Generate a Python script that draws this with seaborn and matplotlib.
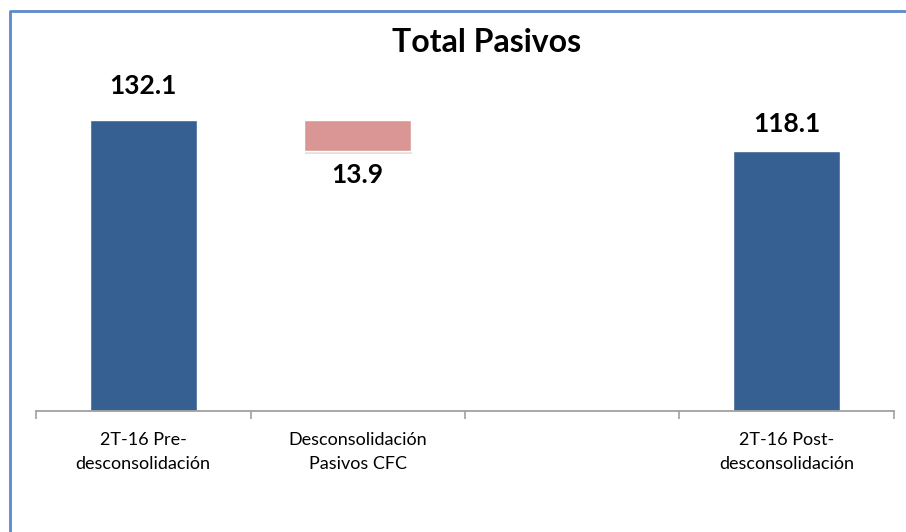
import pandas as pd
import numpy as np
import seaborn as sb
from matplotlib import pyplot as plt
from matplotlib import patheffects as pe
from matplotlib.lines import Line2D

# data
categories = ['2T-16 Pre-\ndesconsolidación', 'Desconsolidación\nPasivos CFC', ' ', '2T-16 Post-\ndesconsolidación']
totals = [132.1, np.nan, np.nan, 118.1]
change = [np.nan, 13.9, np.nan, np.nan]
change_top = 132.1
labels = ['132.1', '13.9', None, '118.1']

sb.set_style('white')
plt.rcParams['font.family'] = ['Lato', 'DejaVu Sans']
plt.rcParams['text.color'] = 'black'

df = pd.DataFrame({'cat': categories, 'total': totals, 'change': change})

fig = plt.figure(figsize=(9.06, 5.32), dpi=100)
ax = fig.add_axes([36 / 906, 1 - 411 / 532, (894 - 36) / 906, (411 - 103) / 532])

shadow = [pe.SimplePatchShadow(offset=(0.5, -2), alpha=0.15), pe.Normal()]

sb.barplot(data=df, x='cat', y='total', order=categories, color='#376092',
           saturation=1, width=0.5, ax=ax)
# the floating bar of the waterfall hangs from the first total
sb.barplot(data=df, x='cat', y='change', order=categories, color='#D99694',
           saturation=1, width=0.5, bottom=change_top - df['change'].dropna().iloc[0], ax=ax)
for p in ax.patches:
    p.set_path_effects(shadow)

ax.set_ylim(0, 140)
ax.set_xlim(-0.5, len(categories) - 0.5)
ax.set_xlabel('')
ax.set_ylabel('')
ax.set_yticks([])
for s in ['top', 'right', 'left']:
    ax.spines[s].set_visible(False)
ax.spines['bottom'].set_color('#A0A0A0')
ax.spines['bottom'].set_linewidth(1.3)

ax.set_xticks(range(len(categories)))
ax.set_xticklabels(categories, fontsize=13, linespacing=1.6, color='black')
ax.tick_params(axis='x', which='major', length=0, pad=15)
ax.set_xticks(np.arange(-0.5, len(categories)), minor=True)
ax.tick_params(axis='x', which='minor', length=6, width=1.2, color='#A0A0A0', bottom=True)

# value labels
ax.annotate(labels[0], (0, totals[0]), xytext=(0, 16), textcoords='offset points',
            ha='center', va='bottom', fontsize=19, fontweight='bold')
ax.annotate(labels[1], (1, change_top - change[1]), xytext=(0, -9), textcoords='offset points',
            ha='center', va='top', fontsize=19, fontweight='bold')
ax.annotate(labels[3], (3, totals[3]), xytext=(0, 11), textcoords='offset points',
            ha='center', va='bottom', fontsize=19, fontweight='bold')

fig.text(487 / 906, 1 - 42 / 532, 'Total Pasivos', ha='center', va='center',
         fontsize=23, fontweight='bold')

# chart frame
fig.add_artist(Line2D([10 / 906, 10 / 906, 1], [0, 1 - 11 / 532, 1 - 11 / 532],
                      transform=fig.transFigure, color='#5B8BC9', linewidth=2))

fig.savefig('out.png', dpi=100)
